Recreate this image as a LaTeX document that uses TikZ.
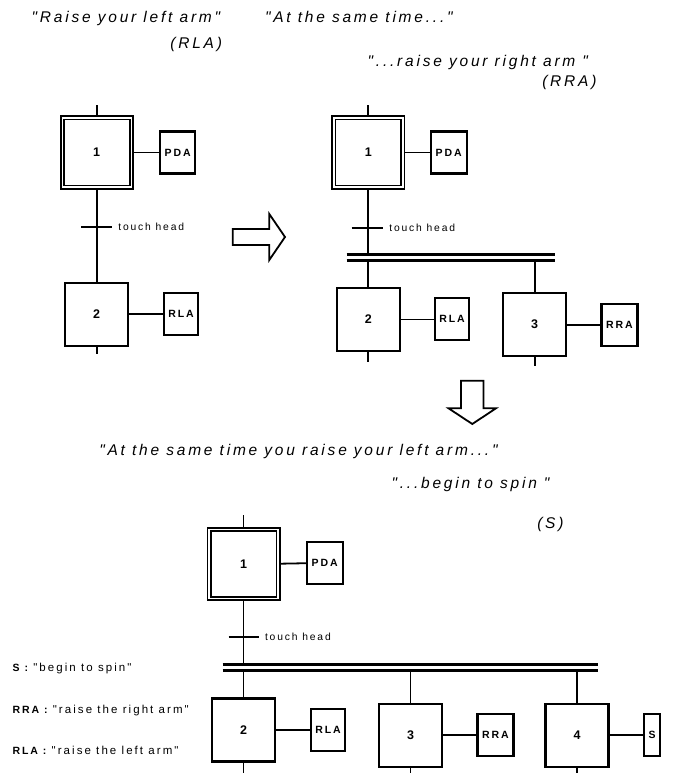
\documentclass[tikz,border=0pt]{standalone}
\usepackage{fontspec}
\setmainfont{Liberation Sans}[LetterSpace=18,Ligatures=TeXOff]
\newfontfamily\numfont{Liberation Sans}[Ligatures=TeXOff]
\newcommand\legendkeyfont{\bfseries\fontsize{10.5}{12}\selectfont}
\begin{document}
\begin{tikzpicture}[x=1pt,y=-1pt,
  every node/.style={inner sep=0pt, outer sep=0pt},
  wire/.style={line width=1.8pt},
  barline/.style={line width=3pt},
  stepbox/.style={draw, line width=2.2pt, minimum width=63pt, minimum height=63pt,
    font=\numfont\bfseries\fontsize{12.5}{14}\selectfont},
  initbox/.style={stepbox, double, double distance=1.4pt, line width=1.8pt,
    minimum width=69pt, minimum height=69pt, outer sep=2.5pt},
  actbox/.style={draw, line width=2.2pt, minimum width=35pt, minimum height=42pt,
    font=\bfseries\fontsize{10.5}{12}\selectfont},
  heading/.style={font=\itshape\fontsize{15.5}{18}\selectfont},
  translabel/.style={font=\fontsize{10.3}{12}\selectfont, anchor=west},
  legend/.style={font=\fontsize{11.5}{13}\selectfont, anchor=base west},
  bigarrow/.style={draw, line width=1.8pt, fill=white, line join=miter},
]
\useasboundingbox (0,0) rectangle (672,773);

% ---------- headings ----------
\node[heading, anchor=base west] (h1) at (31.7,22.7) {"Raise your left arm"};
\node[heading, anchor=base east] (h1c) at (222,48.6) {(RLA)};
\node[heading, anchor=base west] (h2) at (265,22.7) {"At the same time..."};
\node[heading, anchor=base east] (h3) at (588,67) {"...raise your right arm "};
\node[heading, anchor=base east] (h3c) at (596.5,87) {(RRA)};
\node[heading, anchor=base west] (h4) at (99.3,455) {"At the same time you raise your left arm..."};
\node[heading, anchor=base east] (h5) at (549.5,488) {"...begin to spin "};
\node[heading, anchor=base east] (h5c) at (563.5,528) {(S)};

% ---------- first chart: single sequence ----------
\node[initbox] (s1a) at (96.7,152.5) {1};
\node[actbox] (pa) at (177.7,152.5) {PDA};
\node[stepbox] (s2a) at (96.7,314.3) {2};
\node[actbox, minimum width=34pt] (ra) at (181,314) {RLA};
\coordinate (t1a) at (96.7,227);
\draw[wire] (s1a.north) -- ++(0,-10);
\draw[wire] (s1a.east) -- (pa.west);
\draw[wire] (s1a.south) -- (s2a.north);
\draw[wire] ([xshift=-15.5pt]t1a) -- ([xshift=15.5pt]t1a);
\node[translabel] (lta) at (118.3,227) {touch head};
\draw[wire] (s2a.east) -- (s2a.east -| ra.west);
\draw[wire] (s2a.south) -- ++(0,8);

% right-pointing block arrow
\draw[bigarrow] (232.7,229) -- (269.3,229) -- (269.3,214) -- (285,237)
  -- (269.3,260) -- (269.3,245) -- (232.7,245) -- cycle;

% ---------- second chart: two parallel branches ----------
\node[initbox] (s1b) at (368.3,152.5) {1};
\node[actbox, minimum width=36pt] (pb) at (448.7,152.5) {PDA};
\node[stepbox] (s2b) at (368.3,319.5) {2};
\node[actbox, minimum width=34pt] (rb) at (452,319.2) {RLA};
\node[stepbox] (s3b) at (534.7,324.7) {3};
\node[actbox, minimum width=36pt] (rrb) at (619.5,325) {RRA};
\coordinate (t1b) at (367,227.7);
\coordinate (b1t) at (346.7,254);
\coordinate (b1tr) at (555,254);
\coordinate (b1b) at (346.7,260);
\coordinate (b1br) at (555,260);
\draw[wire] (s1b.north) -- ++(0,-10);
\draw[wire] (s1b.east) -- (pb.west);
\draw[wire] (s1b.south) -- (s1b.south |- b1t);
\draw[wire] ([xshift=-15.5pt]t1b) -- ([xshift=15.5pt]t1b);
\node[translabel] (ltb) at (389.3,227.7) {touch head};
\draw[barline] (b1t) -- (b1tr);
\draw[barline] (b1b) -- (b1br);
\draw[wire] (s2b.north) -- (s2b.north |- b1b);
\draw[wire] (s3b.north) -- (s3b.north |- b1b);
\draw[wire] (s2b.east) -- (s2b.east -| rb.west);
\draw[wire] (s3b.east) -- (s3b.east -| rrb.west);
\draw[wire] (s2b.south) -- ++(0,11);
\draw[wire] (s3b.south) -- ++(0,10);

% downward block arrow
\draw[bigarrow] (461,380.7) -- (483.5,380.7) -- (483.5,408.3) -- (496,408.3)
  -- (472.3,424) -- (448.5,408.3) -- (461,408.3) -- cycle;

% ---------- third chart: three parallel branches ----------
\node[initbox] (s1c) at (243.5,563.7) {1};
\node[actbox, minimum width=36pt] (pc) at (324.7,563.2) {PDA};
\node[stepbox] (s2c) at (243.5,730) {2};
\node[actbox, minimum width=34pt] (rc) at (328,730) {RLA};
\node[stepbox] (s3c) at (410.5,735.3) {3};
\node[actbox, minimum width=36pt] (rrc) at (495.5,735.2) {RRA};
\node[stepbox] (s4c) at (577,735.3) {4};
\node[actbox, minimum width=16pt] (sc) at (652.2,735.2) {S};
\coordinate (t1c) at (243.5,637.3);
\coordinate (b2t) at (222.7,664);
\coordinate (b2tr) at (597.7,664);
\coordinate (b2b) at (222.7,670.5);
\coordinate (b2br) at (597.7,670.5);
\draw[wire] (s1c.north) -- ++(0,-12);
\draw[wire] (s1c.east) -- (pc.west);
\draw[wire] (s1c.south) -- (s1c.south |- b2t);
\draw[wire] ([xshift=-15pt]t1c) -- ([xshift=15pt]t1c);
\node[translabel] (ltc) at (265,637.3) {touch head};
\draw[barline] (b2t) -- (b2tr);
\draw[barline] (b2b) -- (b2br);
\draw[wire] (s2c.north) -- (s2c.north |- b2b);
\draw[wire] (s3c.north) -- (s3c.north |- b2b);
\draw[wire] (s4c.north) -- (s4c.north |- b2b);
\draw[wire] (s2c.east) -- (s2c.east -| rc.west);
\draw[wire] (s3c.east) -- (s3c.east -| rrc.west);
\draw[wire] (s4c.east) -- (s4c.east -| sc.west);
\draw[wire] (s2c.south) -- ++(0,14);
\draw[wire] (s3c.south) -- ++(0,10);
\draw[wire] (s4c.south) -- ++(0,10);

% ---------- legend ----------
\node[legend] (k1) at (12.7,671) {{\legendkeyfont S :} "begin to spin"};
\node[legend] (k2) at (12.7,713) {{\legendkeyfont RRA :} "raise the right arm"};
\node[legend] (k3) at (12.7,754.5) {{\legendkeyfont RLA :} "raise the left arm"};
\end{tikzpicture}
\end{document}
